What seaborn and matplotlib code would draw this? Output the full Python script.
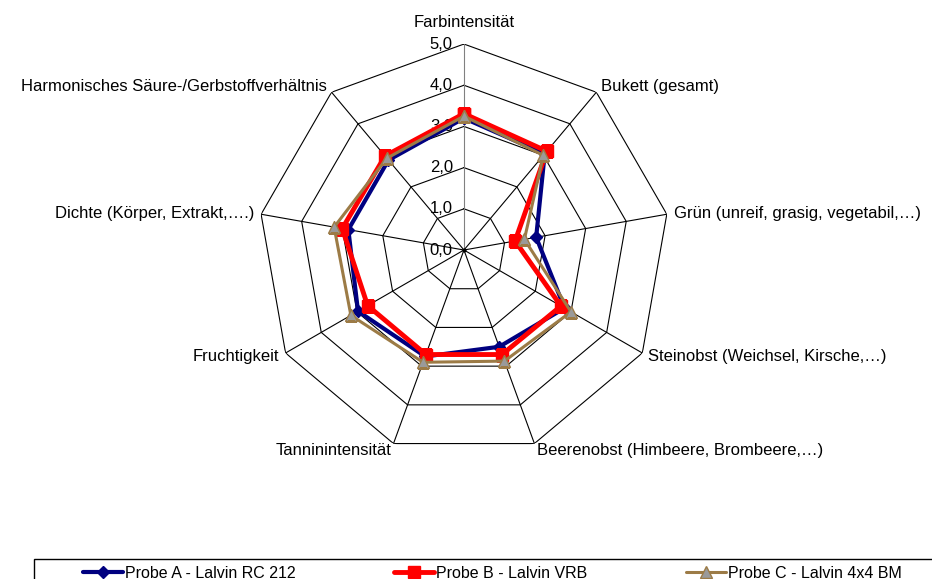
import numpy as np
import pandas as pd
import seaborn as sns
import matplotlib.pyplot as plt
from matplotlib.lines import Line2D
from matplotlib.patches import Rectangle

# Kategorien (im Uhrzeigersinn ab oben)
categories = ['Farbintensität', 'Bukett (gesamt)', 'Grün (unreif, grasig, vegetabil,…)',
              'Steinobst (Weichsel, Kirsche,…)', 'Beerenobst (Himbeere, Brombeere,…)',
              'Tanninintensität', 'Fruchtigkeit', 'Dichte (Körper, Extrakt,….)',
              'Harmonisches Säure-/Gerbstoffverhältnis']

probe_a = [3.20, 3.05, 1.78, 2.82, 2.50, 2.75, 2.97, 2.85, 2.85]
probe_b = [3.31, 3.13, 1.26, 2.72, 2.70, 2.70, 2.70, 3.00, 2.98]
probe_c = [3.25, 3.00, 1.49, 3.00, 2.87, 2.90, 3.17, 3.20, 2.91]

series_names = ['Probe A - Lalvin RC 212', 'Probe B - Lalvin VRB', 'Probe C - Lalvin 4x4 BM']
tick_values = [0, 1, 2, 3, 4, 5]
tick_labels = ['0,0', '1,0', '2,0', '3,0', '4,0', '5,0']

sns.set_style('white')
plt.rcParams['font.family'] = ['Liberation Sans', 'DejaVu Sans']
plt.rcParams['text.color'] = 'black'

n = len(categories)
theta = np.linspace(0, 2 * np.pi, n, endpoint=False)
theta_closed = np.append(theta, 2 * np.pi)

fig = plt.figure(figsize=(9.32, 5.79), dpi=100)
ax = fig.add_axes([0.2768, 0.2124, 0.442, 0.7116], polar=True)
ax.set_theta_offset(np.pi / 2)
ax.set_theta_direction(-1)
ax.set_facecolor('none')
ax.grid(False)
ax.spines['polar'].set_visible(False)
ax.set_xticks([])
ax.set_yticks([])

# Netz (Polygone + Speichen)
for lv in tick_values:
    ax.plot(theta_closed, [lv] * (n + 1), color='black', lw=0.8, zorder=1)
for i, t in enumerate(theta):
    ax.plot([t, t], [0, 5], color='#808080' if i == 0 else 'black', lw=0.8, zorder=1)

# Achsenbeschriftung
for t, lab in zip(tick_values, tick_labels):
    ax.annotate(lab, xy=(0, t), xytext=(-8, 0), textcoords='offset points',
                ha='right', va='center', fontsize=12, color='black')

for t, lab in zip(theta, categories):
    s, c = np.sin(t), np.cos(t)
    if abs(s) < 0.01:
        ax.annotate(lab, xy=(t, 5), xytext=(0, 10), textcoords='offset points',
                    ha='center', va='bottom', fontsize=12, color='black')
    else:
        ax.annotate(lab, xy=(t, 5), xytext=(5 * s, 5 * c), textcoords='offset points',
                    ha='left' if s > 0 else 'right', va='center', fontsize=12,
                    color='black')

styles = [
    dict(color='#000080', lw=3.0, marker='D', markersize=6, mfc='#000080', mec='#000080'),
    dict(color='#FF0000', lw=3.5, marker='s', markersize=8, mfc='#FF0000', mec='#FF0000'),
    dict(color='#9C7B46', lw=2.2, marker='^', markersize=9, mfc='#9A9A9A', mec='#9C7B46'),
]

for name, vals, st in zip(series_names, [probe_a, probe_b, probe_c], styles):
    df = pd.DataFrame({'theta': theta_closed, 'wert': list(vals) + [vals[0]]})
    sns.lineplot(data=df, x='theta', y='wert', sort=False, estimator=None,
                 color=st['color'], linewidth=st['lw'], marker=st['marker'],
                 markersize=st['markersize'], markerfacecolor=st['mfc'],
                 markeredgecolor=st['mec'], markeredgewidth=1, ax=ax, zorder=3)

ax.plot([0], [0], 'o', color='black', markersize=2, zorder=2)
ax.set_xlabel('')
ax.set_ylabel('')
ax.set_ylim(0, 5)

# Legende
handles = [Line2D([], [], color=st['color'], lw=st['lw'], marker=st['marker'],
                  markersize=st['markersize'], mfc=st['mfc'], mec=st['mec'])
           for st in styles]
leg = fig.legend(handles, series_names, loc='center left', ncol=3,
                 bbox_to_anchor=(83 / 932, 1 - 573 / 579), borderaxespad=0,
                 borderpad=0, fontsize=11.5, frameon=False, handlelength=2.5,
                 handletextpad=0.1, columnspacing=6.2)
for txt in leg.get_texts():
    txt.set_color('black')
fig.patches.append(Rectangle((34 / 932, -0.05), 1.0, 0.05 + 1 - 559 / 579,
                             transform=fig.transFigure, fill=False,
                             edgecolor='black', lw=1.0))

fig.savefig('out.png', dpi=100)
